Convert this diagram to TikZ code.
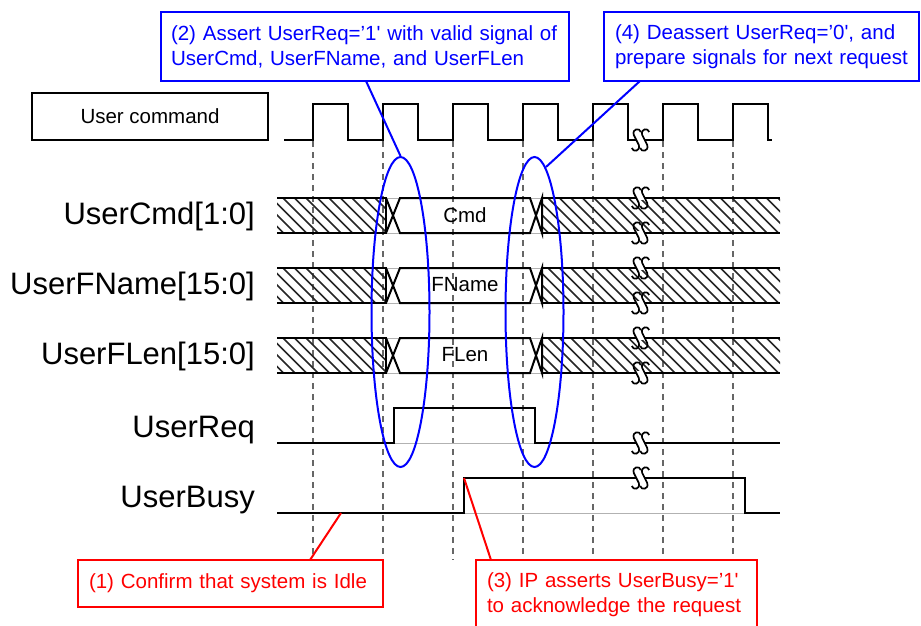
\documentclass[tikz,border=0pt]{standalone}
\usepackage{fontspec}
\setmainfont{Liberation Sans}
\usetikzlibrary{shapes.geometric}
\tikzset{
  sig/.style={line width=2pt, black},
  ghost/.style={line width=0.8pt, black!30},
  hatchln/.style={line width=1.5pt, black!85},
  brkln/.style={line width=1.7pt, black},
  dashln/.style={line width=1.5pt, black!60, dash pattern=on 6pt off 5pt},
  bluebox/.style={draw=blue, line width=2pt, text=blue, align=left, inner xsep=10pt, inner ysep=0pt,
     font=\fontsize{20.5}{25}\selectfont},
  redbox/.style={draw=red, line width=2pt, text=red, align=left, inner xsep=11pt, inner ysep=0pt,
     font=\fontsize{20.5}{25}\selectfont},
  siglabel/.style={anchor=base east, inner sep=0pt, font=\fontsize{31}{34}\selectfont},
  buslabel/.style={inner sep=0pt, font=\fontsize{20.5}{25}\selectfont},
  callb/.style={blue, line width=2pt},
  callr/.style={red, line width=2pt},
  ringb/.style={ellipse, draw=blue, line width=2pt, inner sep=0pt, minimum width=58pt, minimum height=310pt}
}
\newcommand{\hatchreg}[3]{%
  \begin{scope}
    \clip (#1,#3) rectangle (#2,#3+35);
    \foreach \hx in {-40,-28.5,...,520} { \draw[hatchln] (#1+\hx,#3) -- ++(35,35); }
  \end{scope}}
\newcommand{\sshape}[2]{%
  \draw[brkln] (#1+4.5,#2-8) .. controls (#1+3.5,#2-12.5) and (#1-4.5,#2-11.5) .. (#1-2.5,#2-5)
     .. controls (#1-1.2,#2-1.5) and (#1+1.2,#2+1.5) .. (#1+2.5,#2+5)
     .. controls (#1+4.5,#2+11.5) and (#1-3.5,#2+12.5) .. (#1-4.5,#2+8);}
\newcommand{\brkmk}[2]{%
  \fill[white] (#1-4.2,#2-2.2) rectangle (#1+4.2,#2+2.2);
  \sshape{#1-4.2}{#2}
  \sshape{#1+4.2}{#2}}
\newcommand{\busrow}[1]{%
  \draw[ghost] (277,#1) -- (780,#1) (277,#1+35) -- (780,#1+35);
  \hatchreg{277}{386}{#1}
  \hatchreg{542}{780}{#1}
  \draw[sig] (277,#1) -- (386,#1) -- (386,#1+35) -- (277,#1+35);
  \draw[sig] (386,#1) -- (400,#1+35) -- (530,#1+35) -- (542,#1) -- (542,#1+35) -- (530,#1) -- (400,#1) -- (386,#1+35);
  \draw[sig] (542,#1) -- (780,#1) (542,#1+35) -- (780,#1+35);
  \brkmk{640.5}{#1}
  \brkmk{640.5}{#1+35}}
\begin{document}
\begin{tikzpicture}[x=1pt, y=-1pt]
\useasboundingbox (0,0) rectangle (921,626);
\fill[white] (0,0) rectangle (921,626);

% dashed time grid
\foreach \k in {0,...,6} { \draw[dashln] (313+70*\k,141) -- (313+70*\k,560); }

% user command box and clock
\node[draw, line width=2pt, minimum width=236pt, minimum height=47pt, inner sep=0pt,
      font=\fontsize{20.5}{25}\selectfont] (ucmd) at (150,116.5) {User command};
\draw[sig] (284,140) \foreach \k in {0,...,6} { -- (313+70*\k,140) -- (313+70*\k,104) -- (348+70*\k,104) -- (348+70*\k,140) } -- (772,140);
\brkmk{640.5}{140}

% buses
\busrow{198}
\busrow{268}
\busrow{338}
\node[buslabel] (lcmd) at (465,215) {Cmd};
\node[buslabel] (lfname) at (465,285) {FName};
\node[buslabel] (lflen) at (465,355) {FLen};

% UserReq
\draw[ghost] (277,443) -- (780,443);
\draw[sig] (277,443) -- (394,443) -- (394,408) -- (535,408) -- (535,443) -- (780,443);
\brkmk{640.5}{443}

% UserBusy
\draw[ghost] (277,513) -- (780,513);
\draw[sig] (277,513) -- (464,513) -- (464,478) -- (745,478) -- (745,513) -- (780,513);
\brkmk{640.5}{478}

% signal names
\node[siglabel] (ncmd) at (255,224) {UserCmd[1:0]};
\node[siglabel] (nfname) at (255,294) {UserFName[15:0]};
\node[siglabel] (nflen) at (255,364) {UserFLen[15:0]};
\node[siglabel] (nreq) at (255,437) {UserReq};
\node[siglabel] (nbusy) at (255,507) {UserBusy};

% ellipses
\node[ringb] (e1) at (400.5,312) {};
\node[ringb] (e2) at (534.5,312) {};

% blue callouts
\node[bluebox, text width=388pt, minimum height=69pt] (b2) at (365,46.5)
  {(2) Assert UserReq=’1\textquotesingle{} with valid signal of\\UserCmd, UserFName, and UserFLen};
\node[bluebox, inner xsep=11pt, text width=293pt, minimum height=69pt] (b4) at (761.5,46.5)
  {(4) Deassert UserReq=’0\textquotesingle, and\\prepare signals for next request};
\coordinate (c2) at (366,81);
\coordinate (c4) at (640,81);
\coordinate (c4e) at (546,167);
\draw[callb] (c2) -- (e1.north);
\draw[callb] (c4) -- (c4e);

% red callouts
\node[redbox, text width=283pt, minimum height=47pt] (b1) at (230.5,583.5)
  {(1) Confirm that system is Idle};
\node[redbox, text width=259pt, minimum height=69pt] (b3) at (616.5,594.5)
  {(3) IP asserts UserBusy=’1\textquotesingle\\to acknowledge the request};
\coordinate (r1a) at (341,513);
\coordinate (r1b) at (310,560);
\coordinate (r3a) at (464,478);
\coordinate (r3b) at (491,560);
\draw[callr] (r1a) -- (r1b);
\draw[callr] (r3a) -- (r3b);
\end{tikzpicture}
\end{document}
